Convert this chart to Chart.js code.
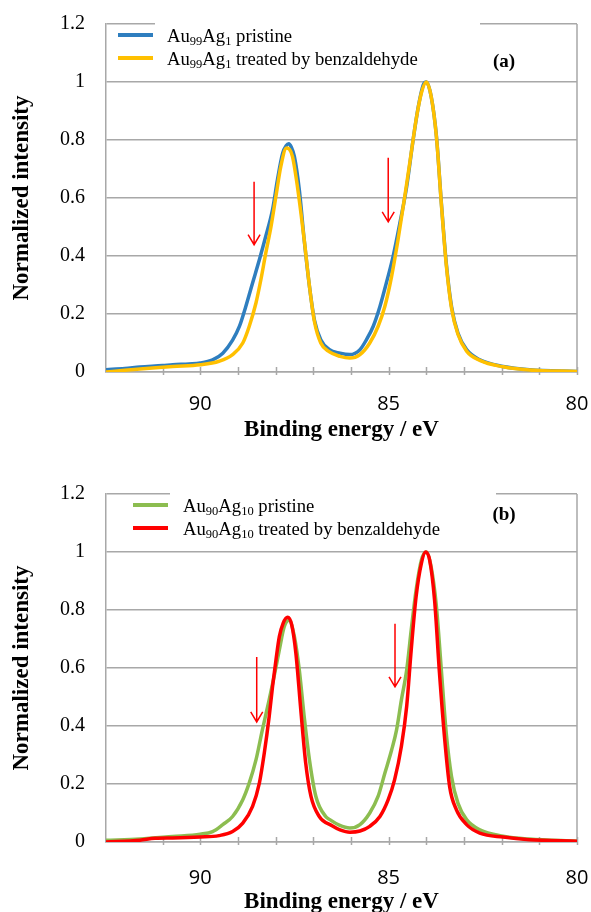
<!DOCTYPE html>
<html>
<head>
<meta charset="utf-8">
<script src="https://cdn.jsdelivr.net/npm/chart.js@4.4.0/dist/chart.umd.min.js"></script>
<style>
  html, body { margin: 0; padding: 0; background: #fff; overflow: hidden; }
  body { width: 591px; height: 912px; position: relative; }
  .box { position: absolute; left: 0; width: 591px; height: 456px; }
  #boxA { top: 0; }
  #boxB { top: 470px; }
</style>
</head>
<body>
<div class="box" id="boxA"><canvas id="chartA" width="591" height="456"></canvas></div>
<div class="box" id="boxB"><canvas id="chartB" width="591" height="456"></canvas></div>
<script>
// (a) Au99Ag1 - binding energy (eV) and normalized intensity
var aPristineEV = [92.5, 92.0, 91.6, 91.0, 90.73, 90.3, 90.0, 89.67, 89.4, 89.14, 88.96, 88.79, 88.61, 88.43, 88.26, 88.08, 87.95, 87.81, 87.72, 87.65, 87.58, 87.5, 87.37, 87.24, 87.1, 86.97, 86.8, 86.58, 86.29, 86.03, 85.76, 85.59, 85.41, 85.23, 85.06, 84.88, 84.7, 84.52, 84.35, 84.21, 84.08, 84.0, 83.87, 83.73, 83.6, 83.47, 83.33, 83.16, 82.93, 82.58, 81.96, 81.26, 80.0];
var aPristineI  = [0.008, 0.012, 0.017, 0.022, 0.025, 0.028, 0.031, 0.042, 0.065, 0.11, 0.157, 0.226, 0.307, 0.387, 0.468, 0.56, 0.663, 0.755, 0.78, 0.787, 0.775, 0.743, 0.629, 0.456, 0.295, 0.18, 0.111, 0.078, 0.065, 0.06, 0.077, 0.111, 0.157, 0.226, 0.307, 0.399, 0.514, 0.64, 0.8, 0.916, 0.99, 1.0, 0.95, 0.812, 0.583, 0.376, 0.226, 0.134, 0.077, 0.042, 0.019, 0.008, 0.002];
var aTreatedEV  = [92.5, 92.0, 91.6, 90.73, 90.0, 89.5, 89.14, 88.87, 88.7, 88.52, 88.39, 88.26, 88.12, 87.99, 87.86, 87.71, 87.63, 87.55, 87.42, 87.24, 87.1, 86.97, 86.8, 86.58, 86.29, 86.03, 85.76, 85.5, 85.28, 85.1, 84.92, 84.75, 84.57, 84.4, 84.27, 84.13, 84.0, 83.87, 83.73, 83.6, 83.47, 83.33, 83.16, 82.93, 82.58, 81.96, 81.26, 80.0];
var aTreatedI   = [0.0, 0.006, 0.01, 0.019, 0.025, 0.037, 0.06, 0.1, 0.157, 0.238, 0.318, 0.41, 0.502, 0.606, 0.709, 0.772, 0.768, 0.743, 0.64, 0.456, 0.295, 0.175, 0.1, 0.07, 0.054, 0.048, 0.06, 0.1, 0.157, 0.226, 0.33, 0.456, 0.606, 0.755, 0.87, 0.962, 1.0, 0.95, 0.81, 0.58, 0.37, 0.22, 0.13, 0.072, 0.04, 0.018, 0.007, 0.002];

// (b) Au90Ag10
var bPristineEV = [92.5, 91.6, 90.73, 90.0, 89.67, 89.4, 89.14, 88.87, 88.7, 88.52, 88.35, 88.17, 88.04, 87.9, 87.77, 87.64, 87.5, 87.37, 87.24, 87.1, 86.93, 86.67, 86.56, 86.31, 86.03, 85.76, 85.5, 85.28, 85.1, 84.92, 84.79, 84.66, 84.52, 84.4, 84.27, 84.13, 84.0, 83.87, 83.73, 83.6, 83.47, 83.33, 83.16, 82.93, 82.58, 81.96, 81.26, 80.0];
var bPristineI  = [0.006, 0.01, 0.019, 0.027, 0.036, 0.06, 0.088, 0.146, 0.203, 0.283, 0.387, 0.49, 0.57, 0.662, 0.742, 0.765, 0.708, 0.593, 0.432, 0.283, 0.157, 0.088, 0.077, 0.058, 0.048, 0.06, 0.1, 0.157, 0.237, 0.317, 0.386, 0.49, 0.593, 0.731, 0.869, 0.972, 1.0, 0.948, 0.811, 0.593, 0.375, 0.226, 0.134, 0.077, 0.042, 0.02, 0.01, 0.003];
var bTreatedEV  = [92.5, 91.6, 91.2, 90.73, 90.0, 89.5, 89.14, 88.87, 88.61, 88.43, 88.3, 88.17, 88.08, 87.99, 87.9, 87.8, 87.68, 87.57, 87.46, 87.33, 87.2, 87.06, 86.84, 86.5, 86.29, 86.03, 85.76, 85.5, 85.23, 85.01, 84.84, 84.66, 84.52, 84.4, 84.27, 84.13, 84.02, 83.91, 83.78, 83.65, 83.51, 83.38, 83.2, 82.93, 82.58, 81.96, 81.26, 80.0];
var bTreatedI   = [0.0, 0.006, 0.013, 0.014, 0.017, 0.022, 0.036, 0.065, 0.123, 0.203, 0.306, 0.432, 0.536, 0.627, 0.708, 0.754, 0.775, 0.748, 0.65, 0.455, 0.272, 0.157, 0.088, 0.056, 0.042, 0.034, 0.038, 0.054, 0.088, 0.146, 0.215, 0.33, 0.468, 0.662, 0.846, 0.961, 1.0, 0.972, 0.834, 0.583, 0.352, 0.191, 0.111, 0.06, 0.031, 0.017, 0.008, 0.003];

// red arrows: [eV, from, to]
var aArrows = [[88.57, 0.656, 0.439], [85.01, 0.739, 0.518]];
var bArrows = [[88.5, 0.638, 0.414], [84.83, 0.753, 0.535]];

var GRID = '#a8a8a8';
var SERIF = '"Liberation Serif", "Times New Roman", serif';
var CLEAR = 'rgba(0,0,0,0)';

function pts(xs, ys) {
    return xs.map(function(x, i) { return {x: x, y: ys[i]}; });
}

// legend with subscripts, panel tag, arrows, tick marks and right border
var decor = {
    id: 'decor',
    beforeDatasetsDraw: function(chart) {
        var ctx = chart.ctx, a = chart.chartArea, xs = chart.scales.x;
        ctx.save();
        ctx.strokeStyle = GRID;
        ctx.lineWidth = 1.5;
        ctx.beginPath();
        xs.ticks.forEach(function(t) {
            if (t.value % 1 !== 0) return;
            var px = Math.round(xs.getPixelForValue(t.value)) + 0.5;
            ctx.moveTo(px, a.bottom - 5);
            ctx.lineTo(px, a.bottom + 3);
        });
        ctx.moveTo(a.right, a.top);
        ctx.lineTo(a.right, a.bottom);
        ctx.stroke();
        ctx.restore();
    },
    afterDraw: function(chart) {
        var o = chart.options.plugins.decor;
        var ctx = chart.ctx, xs = chart.scales.x, ys = chart.scales.y;
        ctx.save();
        // legend box hides part of the top border
        ctx.fillStyle = '#fff';
        ctx.fillRect(o.boxFrom, 17, o.boxTo - o.boxFrom, 14);

        o.items.forEach(function(it, i) {
            var y = 35 + i * 23;
            ctx.strokeStyle = it.color;
            ctx.lineWidth = 4;
            ctx.beginPath();
            ctx.moveTo(o.lineX, y);
            ctx.lineTo(o.lineX + 35, y);
            ctx.stroke();
            var x = o.textX;
            ctx.fillStyle = '#000';
            ctx.textBaseline = 'alphabetic';
            it.parts.forEach(function(p) {
                var sub = p[1] === 'sub';
                ctx.font = (sub ? '12.5px ' : '18.7px ') + SERIF;
                ctx.fillText(p[0], x, y + (sub ? 10 : 7));
                x += ctx.measureText(p[0]).width;
            });
        });

        ctx.font = 'bold 19px ' + SERIF;
        ctx.textAlign = 'center';
        ctx.textBaseline = 'middle';
        ctx.fillText(o.tag, 504, o.tagY);

        ctx.strokeStyle = '#ff0000';
        ctx.lineWidth = 1.5;
        o.arrows.forEach(function(ar) {
            var px = xs.getPixelForValue(ar[0]);
            var y1 = ys.getPixelForValue(ar[1]);
            var y2 = ys.getPixelForValue(ar[2]);
            ctx.beginPath();
            ctx.moveTo(px, y1);
            ctx.lineTo(px, y2);
            ctx.moveTo(px - 6, y2 - 10);
            ctx.lineTo(px, y2);
            ctx.lineTo(px + 6, y2 - 10);
            ctx.stroke();
        });
        ctx.restore();
    }
};

function makeChart(id, s1, s2, deco) {
    new Chart(document.getElementById(id), {
        type: 'line',
        data: {
            datasets: [
                { data: s1.data, borderColor: s1.color, borderWidth: 3.5, pointRadius: 0, fill: false, cubicInterpolationMode: 'monotone', order: 1 },
                { data: s2.data, borderColor: s2.color, borderWidth: 3.5, pointRadius: 0, fill: false, cubicInterpolationMode: 'monotone', order: 0 }
            ]
        },
        options: {
            responsive: false,
            animation: false,
            devicePixelRatio: 1,
            layout: { padding: { top: 24, right: 14, left: 0, bottom: 0 } },
            plugins: { legend: { display: false }, tooltip: { enabled: false }, decor: deco },
            scales: {
                x: {
                    type: 'linear', reverse: true, min: 80, max: 92.5,
                    afterFit: function(s) { s.height = 84; },
                    // invisible tick marks push the labels down without widening the side padding
                    grid: { drawOnChartArea: false, drawTicks: true, tickLength: deco.xPad, tickColor: CLEAR },
                    border: { color: GRID, width: 1.5 },
                    ticks: {
                        stepSize: 1, autoSkip: false, maxRotation: 0, padding: 0,
                        color: '#000', font: { family: '"Open Sans", sans-serif', size: 20 },
                        callback: function(v) { return v % 5 === 0 ? String(v) : ''; }
                    },
                    title: {
                        display: true, text: 'Binding energy / eV', color: '#000',
                        font: { family: SERIF, size: 23, weight: 'bold' },
                        padding: { top: 0, bottom: deco.titlePad }
                    }
                },
                y: {
                    min: 0, max: 1.2,
                    afterFit: function(s) { s.width = 106; },
                    grid: { color: GRID, lineWidth: 1.5, drawTicks: true, tickLength: 21, tickColor: CLEAR },
                    border: { color: GRID, width: 1.5 },
                    ticks: {
                        stepSize: 0.2, padding: 0, color: '#000',
                        font: { family: SERIF, size: 20 },
                        callback: function(v) { return String(+v.toFixed(1)); }
                    },
                    title: {
                        display: true, text: 'Normalized intensity', color: '#000',
                        font: { family: SERIF, size: 23, weight: 'bold' },
                        padding: { top: 8, bottom: 0 }
                    }
                }
            }
        },
        plugins: [decor]
    });
}

makeChart('chartA',
    { data: pts(aPristineEV, aPristineI), color: '#2e7ebf' },
    { data: pts(aTreatedEV, aTreatedI), color: '#ffc000' },
    {
        items: [
            { color: '#2e7ebf', parts: [['Au'], ['99', 'sub'], ['Ag'], ['1', 'sub'], [' pristine']] },
            { color: '#ffc000', parts: [['Au'], ['99', 'sub'], ['Ag'], ['1', 'sub'], [' treated by benzaldehyde']] }
        ],
        lineX: 118, textX: 167, boxFrom: 155, boxTo: 480,
        tag: '(a)', tagY: 62, arrows: aArrows, xPad: 20, titlePad: 12
    });

makeChart('chartB',
    { data: pts(bPristineEV, bPristineI), color: '#8cbd50' },
    { data: pts(bTreatedEV, bTreatedI), color: '#ff0000' },
    {
        items: [
            { color: '#8cbd50', parts: [['Au'], ['90', 'sub'], ['Ag'], ['10', 'sub'], [' pristine']] },
            { color: '#ff0000', parts: [['Au'], ['90', 'sub'], ['Ag'], ['10', 'sub'], [' treated by benzaldehyde']] }
        ],
        lineX: 133, textX: 183, boxFrom: 170, boxTo: 496,
        tag: '(b)', tagY: 45, arrows: bArrows, xPad: 24, titlePad: 10
    });
</script>
</body>
</html>
